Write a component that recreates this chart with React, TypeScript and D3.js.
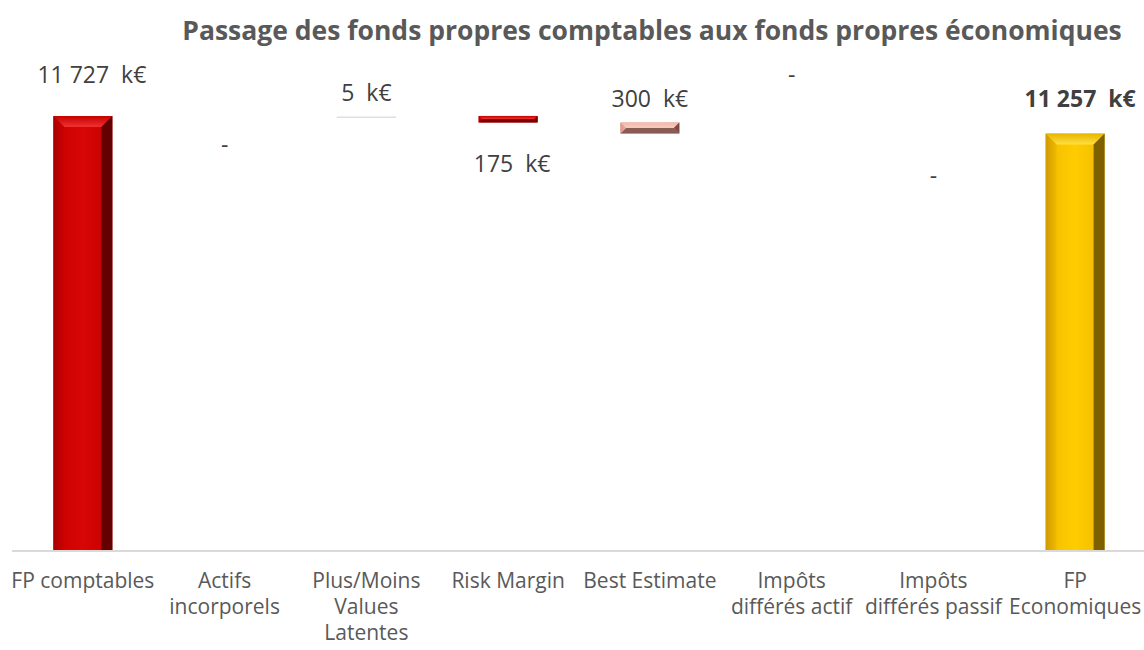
import * as d3 from 'd3';

// categories and values (k€)
const categories = [
  'FP comptables',
  'Actifs incorporels',
  'Plus/Moins Values Latentes',
  'Risk Margin',
  'Best Estimate',
  'Impôts différés actif',
  'Impôts différés passif',
  'FP Economiques',
];
const tickLabels = [
  ['FP comptables'],
  ['Actifs', 'incorporels'],
  ['Plus/Moins', 'Values', 'Latentes'],
  ['Risk Margin'],
  ['Best Estimate'],
  ['Impôts', 'différés actif'],
  ['Impôts', 'différés passif'],
  ['FP', 'Economiques'],
];
const values = [11727, 0, 5, -175, -300, 0, 0, 11257];
const isTotal = [true, false, false, false, false, false, false, true];
const title = 'Passage des fonds propres comptables aux fonds propres économiques';

// label placement tweaks (px from bar top), like the hand-moved Excel labels
const labelDy = [-39, 31, -21, 50, -22, -57, 44, -33];
const labelDx = [9, 0, 0, 4, 0, 0, 0, 5];

type Palette = {
  front: [string, string, string];
  top: [string, string];
  left: [string, string];
  right: string;
  bottom: string;
};
const palettes: Record<string, Palette> = {
  red: { front: ['#c80000', '#d80606', '#c40000'], top: ['#c60000', '#f23232'], left: ['#a80000', '#d00000'], right: '#640000', bottom: '#7a0000' },
  gold: { front: ['#f2bd00', '#ffcc00', '#f0bb00'], top: ['#e8b400', '#ffe040'], left: ['#d09a00', '#f0bb00'], right: '#7f6000', bottom: '#8c6b00' },
  pink: { front: ['#eba89c', '#f2b5a9', '#e9a599'], top: ['#f0b8ac', '#f8cbc0'], left: ['#d8998f', '#e8a89c'], right: '#7a4a44', bottom: '#8a5a54' },
  grey: { front: ['#e4e8ec', '#e8ecf0', '#e4e8ec'], top: ['#eef1f4', '#eef1f4'], left: ['#e4e8ec', '#e4e8ec'], right: '#dde1e5', bottom: '#dde1e5' },
};
const barPalette = ['red', 'grey', 'grey', 'red', 'pink', 'grey', 'grey', 'gold'];

const W = 1144;
const H = 650;
const baseY = 551;

const fmt = d3.formatLocale({ decimal: ',', thousands: ' ', grouping: [3], currency: ['', ''] }).format(',.0f');

function Bar({ x, y, w, h, p, id, openBottom }: { x: number; y: number; w: number; h: number; p: Palette; id: string; openBottom: boolean }) {
  const b = openBottom ? Math.min(11, w / 2) : Math.min(8, w / 2, h / 2);
  const yb = openBottom ? y + h : y + h - b;
  return (
    <g>
      <defs>
        <linearGradient id={`${id}f`} x1="0" x2="1" y1="0" y2="0">
          <stop offset="0%" stopColor={p.front[0]} />
          <stop offset="50%" stopColor={p.front[1]} />
          <stop offset="100%" stopColor={p.front[2]} />
        </linearGradient>
        <linearGradient id={`${id}t`} x1="0" x2="0" y1="0" y2="1">
          <stop offset="0%" stopColor={p.top[0]} />
          <stop offset="100%" stopColor={p.top[1]} />
        </linearGradient>
        <linearGradient id={`${id}l`} x1="0" x2="1" y1="0" y2="0">
          <stop offset="0%" stopColor={p.left[0]} />
          <stop offset="100%" stopColor={p.left[1]} />
        </linearGradient>
      </defs>
      <rect x={x} y={y} width={w} height={h} fill={`url(#${id}f)`} />
      <polygon points={`${x},${y} ${x + w},${y} ${x + w - b},${y + b} ${x + b},${y + b}`} fill={`url(#${id}t)`} />
      {!openBottom && (
        <polygon points={`${x},${y + h} ${x + w},${y + h} ${x + w - b},${y + h - b} ${x + b},${y + h - b}`} fill={p.bottom} />
      )}
      <polygon points={`${x},${y} ${x + b},${y + b} ${x + b},${yb} ${x},${y + h}`} fill={`url(#${id}l)`} />
      <polygon points={`${x + w},${y} ${x + w - b},${y + b} ${x + w - b},${yb} ${x + w},${y + h}`} fill={p.right} />
    </g>
  );
}

export default function App() {
  const x = d3.scaleBand<string>().domain(categories).range([12, 1146]).paddingInner(0.584).paddingOuter(0.292);
  const y = d3.scaleLinear().domain([0, 12000]).range([baseY, 106]);

  // waterfall steps
  let running = 0;
  const steps = values.map((v, i) => {
    let a: number, b: number;
    if (isTotal[i]) {
      a = 0;
      b = v;
      running = v;
    } else {
      a = running;
      b = running + v;
      running = b;
    }
    return { a, b, v, i };
  });

  return (
    <div style={{ position: 'fixed', left: 0, top: 0 }}>
      <svg width={W} height={H} style={{ display: 'block', background: '#fff' }} fontFamily="'Open Sans', sans-serif">
        <text x={652} y={33} textAnchor="middle" dominantBaseline="middle" fontSize={26.5} fontWeight={700} fill="#595959">
          {title}
        </text>

        {steps.map((s) => {
          const c = categories[s.i];
          const bx = x(c)!;
          const bw = x.bandwidth();
          const top = y(Math.max(s.a, s.b));
          const bot = y(Math.min(s.a, s.b));
          const h = Math.max(bot - top, s.v === 0 ? 0 : 2);
          return h > 0 ? (
            <Bar key={c} id={`g${s.i}`} x={bx} y={top} w={bw} h={h} p={palettes[barPalette[s.i]]} openBottom={isTotal[s.i]} />
          ) : null;
        })}

        <line x1={12} x2={1144} y1={baseY} y2={baseY} stroke="#d9d9d9" strokeWidth={2} />

        {steps.map((s) => {
          const c = categories[s.i];
          const cx = x(c)! + x.bandwidth() / 2 + labelDx[s.i];
          const top = y(Math.max(s.a, s.b));
          const txt = s.v === 0 ? '-' : `${fmt(Math.abs(s.v))}  k€`;
          return (
            <text
              key={c}
              x={cx}
              y={top + labelDy[s.i]}
              textAnchor="middle"
              dominantBaseline="middle"
              fontSize={23}
              fontWeight={s.i === 7 ? 700 : 400}
              fill="#404040"
              style={{ whiteSpace: 'pre' }}
            >
              {txt}
            </text>
          );
        })}

        {tickLabels.map((lines, i) => (
          <text key={i} x={x(categories[i])! + x.bandwidth() / 2} y={582} textAnchor="middle" dominantBaseline="middle" fontSize={21} fill="#595959">
            {lines.map((l, j) => (
              <tspan key={j} x={x(categories[i])! + x.bandwidth() / 2} dy={j === 0 ? 0 : 26}>
                {l}
              </tspan>
            ))}
          </text>
        ))}
      </svg>
    </div>
  );
}
